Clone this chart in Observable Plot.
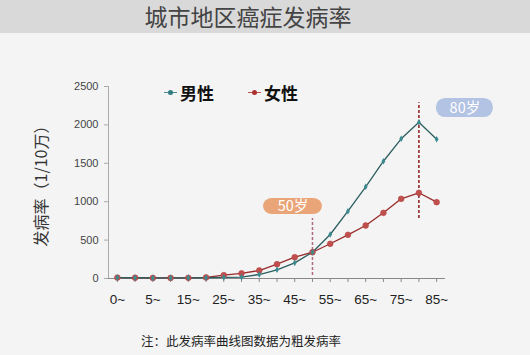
<!DOCTYPE html>
<html><head><meta charset="utf-8">
<script src="https://cdn.jsdelivr.net/npm/d3@7"></script>
<script src="https://cdn.jsdelivr.net/npm/@observablehq/plot@0.6"></script>
<style>
html,body{margin:0;padding:0;background:#f4f4f4;}
#wrap{position:relative;width:530px;height:355px;overflow:hidden;background:#f4f4f4;font-family:"Noto Sans CJK SC",sans-serif;}
#title{position:absolute;left:0;top:0;width:530px;height:33px;background:#d9d9d9;color:#444;font-size:23px;line-height:33px;text-align:center;padding-right:34px;box-sizing:border-box;}
#legend{position:absolute;left:164px;top:80px;font-size:17px;font-weight:bold;color:#111;display:flex;gap:34px;}
#legend span{display:flex;align-items:center;}
#legend i{display:inline-block;position:relative;width:13px;height:1.5px;margin-right:3px;}
#legend i b{position:absolute;left:4px;top:-2px;width:5px;height:5px;border-radius:50%;}
#ylab{position:absolute;left:40px;top:182px;transform:translate(-50%,-50%) rotate(-90deg);font-size:16px;color:#333;white-space:nowrap;}
#note{position:absolute;left:141px;top:331px;font-size:12.5px;color:#222;}
#chart{position:absolute;left:0;top:0;}
</style></head>
<body><div id="wrap">
<div id="chart"></div>
<div id="title">城市地区癌症发病率</div>
<div id="legend"><span><i style="background:#4a8c90"><b style="background:#2f7b80"></b></i>男性</span><span><i style="background:#c0504d"><b style="background:#b03030"></b></i>女性</span></div>
<div id="ylab">发病率（1/10万）</div>
<div id="note">注：此发病率曲线图数据为粗发病率</div>
</div>
<script>
const ageGroups = ["0~","1~","5~","10~","15~","20~","25~","30~","35~","40~","45~","50~","55~","60~","65~","70~","75~","80~","85~"];
const xTickLabels = ["0~","5~","15~","25~","35~","45~","55~","65~","75~","85~"];
const male   = [12, 10, 8, 8, 9, 10, 15, 18, 52, 113, 204, 342, 573, 876, 1194, 1527, 1819, 2035, 1814];
const female = [12, 10, 8, 8, 9, 14, 43, 68, 104, 186, 277, 342, 452, 569, 690, 855, 1038, 1116, 994];
const yTicks = [0, 500, 1000, 1500, 2000, 2500];
const markers = [
  {label:"50岁", age:"50~", lineTop:781, lineBottom:40, color:"#b06a80", box:[8.24,11.56,833,1042], fill:"#e9a577"},
  {label:"80岁", age:"80~", lineTop:2290, lineBottom:781, color:"#8b1a1a", box:[17.99,21.2,2096,2344], fill:"#b3c3e3"}
];

const rows = [];
ageGroups.forEach((a,i)=>{ rows.push({i, age:a, v:male[i], s:"男性"}); rows.push({i, age:a, v:female[i], s:"女性"}); });
const maleRows = rows.filter(d=>d.s==="男性");
const femaleRows = rows.filter(d=>d.s==="女性");
const idx = a => ageGroups.indexOf(a);
const labelSet = new Set(xTickLabels);

const chart = Plot.plot({
  width: 530, height: 355,
  marginLeft: 108, marginRight: 85, marginTop: 86, marginBottom: 77,
  style: {background: "transparent", fontFamily: "'Liberation Sans', sans-serif"},
  x: {type: "linear", domain: [-0.5, ageGroups.length - 0.5], axis: null},
  y: {domain: [0, 2500], axis: null},
  marks: [
    Plot.ruleY([0], {stroke: "#888", strokeWidth: 1}),
    Plot.ruleX([-0.5], {y1: 0, y2: 2500, stroke: "#aaa", strokeWidth: 1}),
    Plot.axisY({ticks: yTicks, tickFormat: d => String(d), tickSize: 4, tickPadding: 6, stroke: "#aaa", fontSize: 11, color: "#444", anchor: "left", label: null}),
    Plot.axisX({ticks: d3.range(ageGroups.length), tickSize: 4, tickPadding: 12, stroke: "#888", fontSize: 13.5, color: "#222", anchor: "bottom", label: null,
      tickFormat: i => labelSet.has(ageGroups[i]) ? ageGroups[i] : ""}),
    Plot.ruleX(markers, {x: d => idx(d.age), y1: "lineBottom", y2: "lineTop", stroke: "color", strokeWidth: 1.5, strokeDasharray: "3,2"}),
    Plot.line(femaleRows, {x: "i", y: "v", stroke: "#9a2a2a", strokeWidth: 1.3}),
    Plot.line(maleRows, {x: "i", y: "v", stroke: "#2d5e60", strokeWidth: 1.3}),
    Plot.dot(femaleRows, {x: "i", y: "v", r: 2.9, fill: "#c0504d", stroke: "#b03a3a", strokeWidth: 0.5}),
    Plot.dot(maleRows, {x: "i", y: "v", r: 2, symbol: "diamond", fill: "#3a8a8f"}),
    Plot.rect(markers, {x1: d => d.box[0], x2: d => d.box[1], y1: d => d.box[2], y2: d => d.box[3], fill: "fill", rx: 9, clip: false}),
    Plot.text(markers, {x: d => (d.box[0] + d.box[1]) / 2, y: d => (d.box[2] + d.box[3]) / 2, text: "label", fill: "white", fontSize: 14.5, fontFamily: "'Noto Sans CJK SC', sans-serif", clip: false})
  ]
});
document.getElementById("chart").appendChild(chart);
</script>
</body></html>
